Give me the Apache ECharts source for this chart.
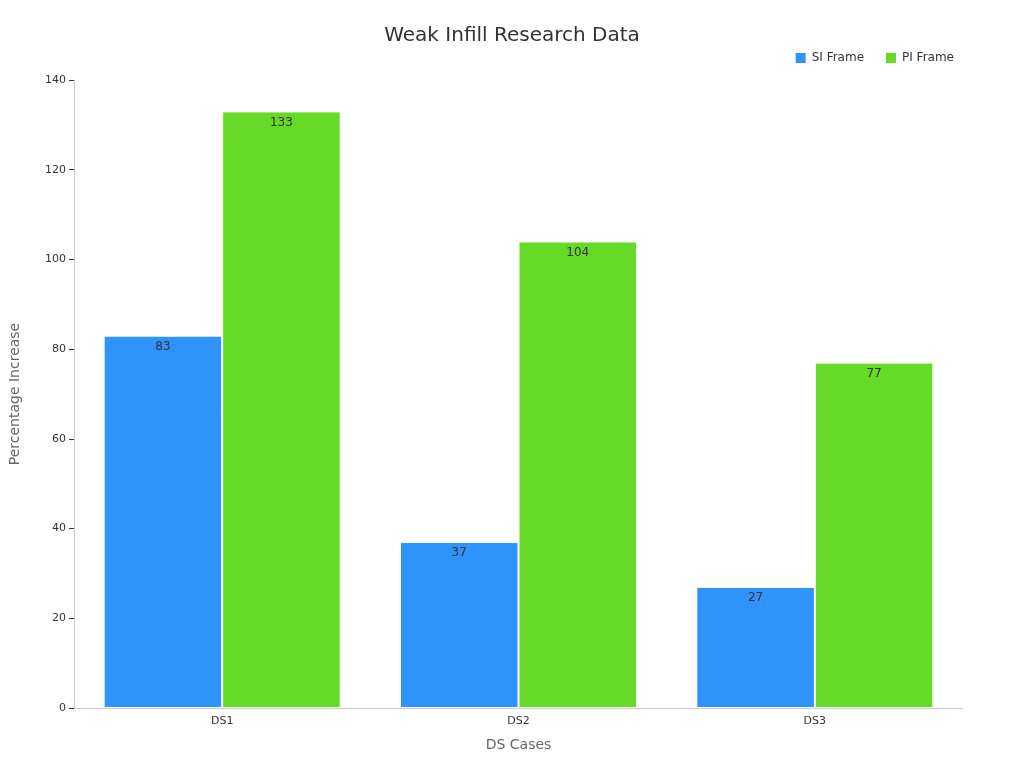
<!doctype html>
<html lang="en">
<head>
<meta charset="UTF-8">
<title>Weak Infill Research Data</title>
<script src="https://cdn.jsdelivr.net/npm/echarts@6/dist/echarts.min.js"></script>
</head>
<body style="margin:0">
<div id="chart" style="width:1024px;height:768px"></div>
<script>
var categories = ['DS1', 'DS2', 'DS3'];
var siFrame = [83, 37, 27];
var piFrame = [133, 104, 77];

var chart = echarts.init(document.getElementById('chart'));
var labelStyle = { show: true, position: 'insideTop', color: '#333', fontSize: 12 };
chart.setOption({
    animation: false,
    textStyle: { fontFamily: 'DejaVu Sans' },
    title: {
        text: 'Weak Infill Research Data', left: 'center', top: 21,
        textStyle: { fontSize: 20, fontWeight: 'normal', color: '#333' }
    },
    legend: {
        top: 46, right: 65, icon: 'rect', itemWidth: 12, itemHeight: 12, itemGap: 20,
        textStyle: { fontSize: 12, color: '#333' },
        data: ['SI Frame', 'PI Frame']
    },
    grid: { left: 67, right: 61, top: 80, bottom: 60 },
    xAxis: {
        type: 'category', data: categories,
        name: 'DS Cases', nameLocation: 'middle', nameGap: 30,
        nameTextStyle: { fontSize: 14, color: '#666' },
        axisLine: { lineStyle: { color: '#ccc' } },
        axisTick: { show: false },
        axisLabel: { color: '#333', fontSize: 11 }
    },
    yAxis: {
        type: 'value', min: 0, max: 140, interval: 20,
        name: 'Percentage Increase', nameLocation: 'middle', nameGap: 52,
        nameTextStyle: { fontSize: 14, color: '#666' },
        axisLine: { show: true, lineStyle: { color: '#ccc' } },
        axisTick: { show: true, lineStyle: { color: '#333' } },
        axisLabel: { color: '#333', fontSize: 11 },
        splitLine: { show: false }
    },
    series: [
        {
            name: 'SI Frame', type: 'bar', data: siFrame, barWidth: '40%', barGap: '0%',
            itemStyle: { color: '#2E93FA', borderColor: '#fff', borderWidth: 1 },
            label: labelStyle
        },
        {
            name: 'PI Frame', type: 'bar', data: piFrame, barWidth: '40%',
            itemStyle: { color: '#66DA26', borderColor: '#fff', borderWidth: 1 },
            label: labelStyle
        }
    ]
});
</script>
</body>
</html>
